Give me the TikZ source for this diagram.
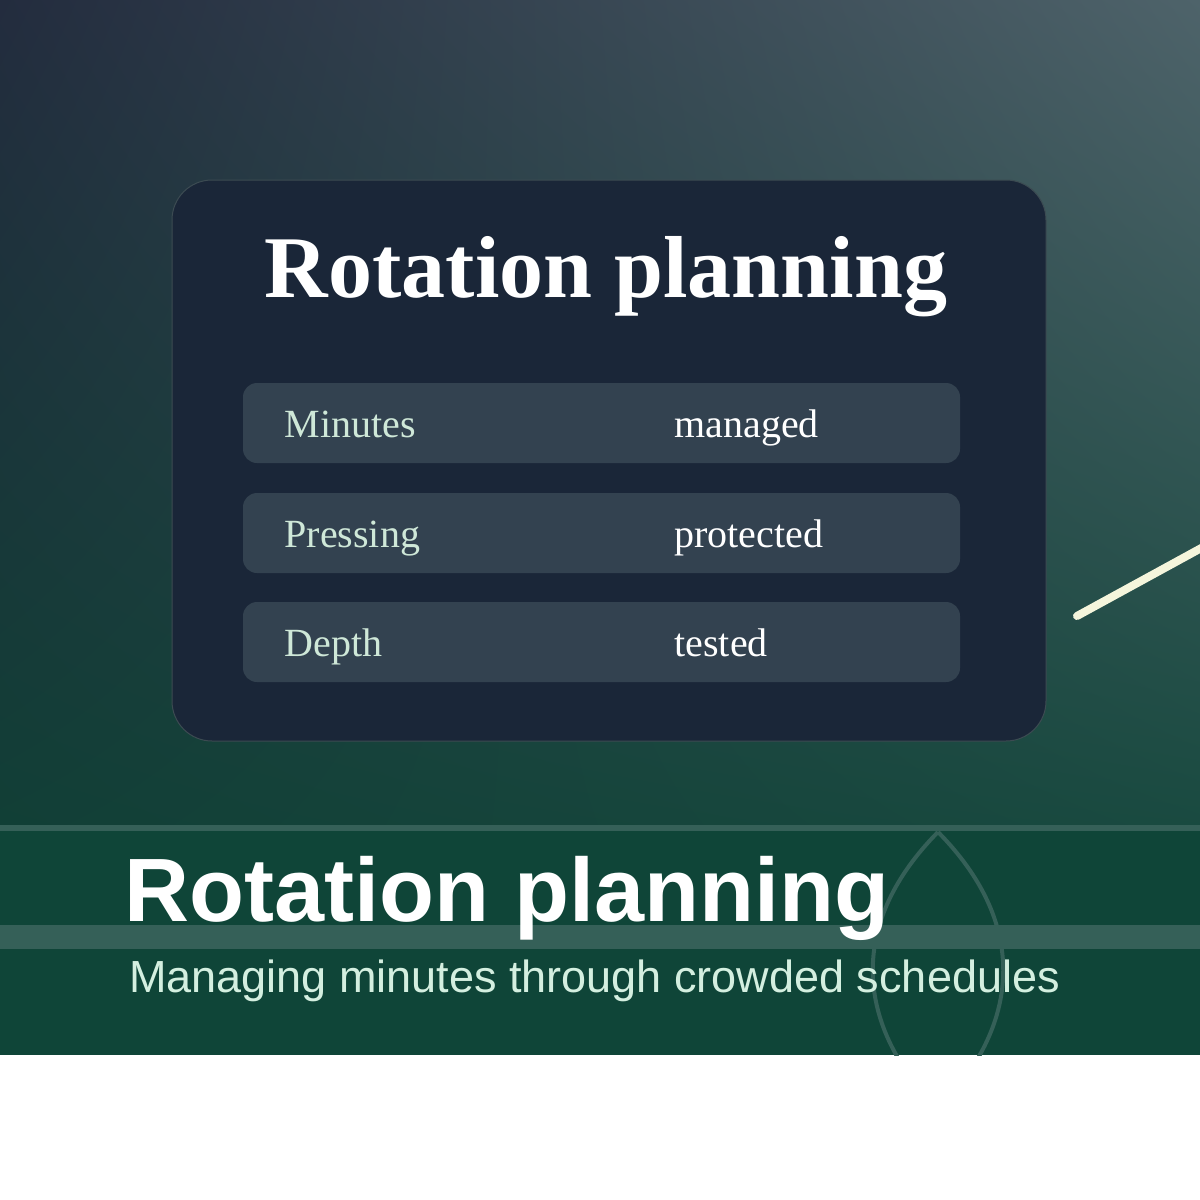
\documentclass[tikz,border=0pt]{standalone}
\usepackage{fontspec}
\usetikzlibrary{shadings}
\setmainfont{Liberation Serif}
\setsansfont{Liberation Sans}
\definecolor{cardbg}{HTML}{1A2638}
\definecolor{cardln}{HTML}{3C4B52}
\definecolor{rowbg}{HTML}{334250}
\definecolor{lbl}{HTML}{CFE8D8}
\definecolor{band}{HTML}{0F4538}
\definecolor{bandln}{HTML}{356058}
\definecolor{cream}{HTML}{F5F5DC}
\definecolor{sub}{HTML}{D4EFE0}
\definecolor{gtl}{HTML}{232C3E}
\definecolor{gtr}{HTML}{4E636A}
\definecolor{gbl}{HTML}{113F36}
\definecolor{gbr}{HTML}{194A40}
\tikzset{rowbox/.style={fill=rowbg,rounded corners=14pt},
 lab/.style={anchor=base west,text=lbl,font=\fontsize{40}{40}\selectfont},
 val/.style={anchor=base west,text=white,font=\fontsize{40}{40}\selectfont}}
\begin{document}
\begin{tikzpicture}[x=1pt,y=-1pt]
\useasboundingbox (0,0) rectangle (1200,1200);
\fill[white] (0,0) rectangle (1200,1200);
\shade[upper left=gtl, upper right=gtr, lower left=gbl, lower right=gbr] (0,0) rectangle (1200,830);
\fill[band] (0,828) rectangle (1200,1055);
\fill[bandln] (0,825) rectangle (1200,831);
\fill[bandln] (0,925) rectangle (1200,949);
\begin{scope}
\clip (0,830) rectangle (1200,1055);
\draw[bandln,line width=4pt] (938,832) .. controls (1025,920) and (1025,1020) .. (938,1110) .. controls (851,1020) and (851,920) .. (938,832);
\end{scope}
\node[draw=cardln,line width=1pt,fill=cardbg,rounded corners=40pt,minimum width=874pt,minimum height=561pt,inner sep=0pt] (card) at (609,460.5) {};
\node[anchor=base,text=white,font=\fontsize{88}{88}\selectfont\bfseries] (title) at (606,297) {Rotation planning};
\node[rowbox,minimum width=717pt,minimum height=80pt,inner sep=0pt] (r1) at (601.5,423) {};
\node[rowbox,minimum width=717pt,minimum height=80pt,inner sep=0pt] (r2) at (601.5,533) {};
\node[rowbox,minimum width=717pt,minimum height=80pt,inner sep=0pt] (r3) at (601.5,642) {};
\node[lab] (l1) at (281,437) {Minutes};
\node[val] (v1) at (671,437) {managed};
\node[lab] (l2) at (281,547) {Pressing};
\node[val] (v2) at (671,547) {protected};
\node[lab] (l3) at (281,656) {Depth};
\node[val] (v3) at (671,656) {tested};
\coordinate (p1) at (1077,616);
\coordinate (p2) at (1205,546);
\draw[cream,line width=8pt,line cap=round] (p1) -- (p2);
\node[anchor=base west,inner sep=0pt,text=white,font=\sffamily\bfseries\fontsize{90}{90}\selectfont] (bt) at (124,921) {Rotation planning};
\node[anchor=base west,inner sep=0pt,text=sub,font=\sffamily\fontsize{45}{45}\selectfont] (st) at (129,992) {Managing minutes through crowded schedules};
\end{tikzpicture}
\end{document}
